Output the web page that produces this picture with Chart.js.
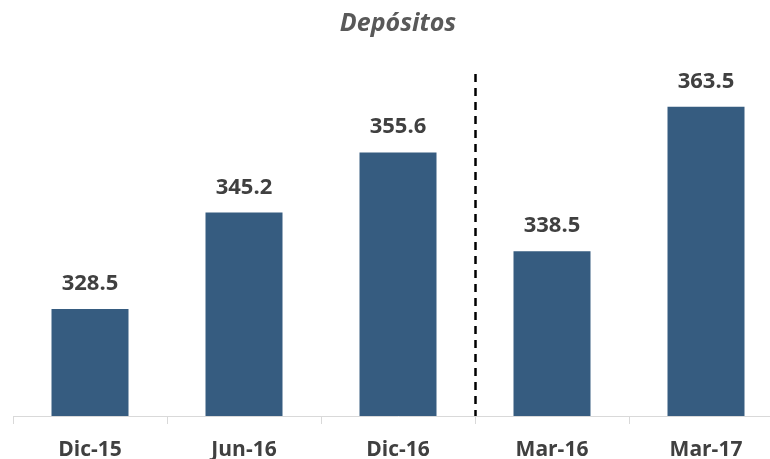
<!DOCTYPE html>
<html>
<head>
<meta charset="utf-8">
<script src="https://cdn.jsdelivr.net/npm/chart.js@4.4.0/dist/chart.umd.min.js"></script>
<style>
  html, body { margin: 0; padding: 0; overflow: hidden; background: #ffffff; width: 770px; height: 459px; }
  #wrap { position: absolute; left: 0; top: 0; width: 796px; height: 459px; }
</style>
</head>
<body>
<div id="wrap"><canvas id="c"></canvas></div>
<script>
const categories = ['Dic-15', 'Jun-16', 'Dic-16', 'Mar-16', 'Mar-17'];
const depositos = [328.5, 345.2, 355.6, 338.5, 363.5];
const chartTitle = 'Depósitos';
const dividerAfterIndex = 2; // dashed separator between Dic-16 and Mar-16

const FONT = '"Open Sans", Lato, "DejaVu Sans", sans-serif';

const extrasPlugin = {
  id: 'extras',
  afterDatasetsDraw(chart) {
    const ctx = chart.ctx;
    const meta = chart.getDatasetMeta(0);
    ctx.save();
    ctx.font = 'bold 22px ' + FONT;
    ctx.fillStyle = '#404040';
    ctx.textAlign = 'center';
    ctx.textBaseline = 'alphabetic';
    meta.data.forEach((bar, i) => {
      ctx.fillText(depositos[i].toFixed(1), bar.x, bar.y - 19);
    });
    // dashed divider
    const xs = chart.scales.x;
    const x = Math.round(xs.getPixelForValue(dividerAfterIndex + 0.5)) + 0.5;
    ctx.strokeStyle = '#000000';
    ctx.lineWidth = 2.5;
    ctx.setLineDash([8, 6]);
    ctx.beginPath();
    ctx.moveTo(x, chart.chartArea.top + 14);
    ctx.lineTo(x, chart.chartArea.bottom);
    ctx.stroke();
    ctx.restore();
  }
};

new Chart(document.getElementById('c'), {
  type: 'bar',
  data: {
    labels: categories,
    datasets: [{
      data: depositos,
      backgroundColor: '#365C80',
      borderWidth: 0,
      categoryPercentage: 1.0,
      barPercentage: 0.5
    }]
  },
  options: {
    responsive: true,
    maintainAspectRatio: false,
    animation: false,
    layout: { padding: { left: 13, right: 13, top: 0, bottom: 0 } },
    plugins: {
      legend: { display: false },
      tooltip: { enabled: false },
      title: {
        display: true,
        text: chartTitle,
        color: '#595959',
        font: { family: FONT, size: 25, style: 'italic', weight: 'bold', lineHeight: 1.2 },
        padding: { top: 9, bottom: 21 }
      }
    },
    scales: {
      y: {
        display: false,
        min: 310,
        max: 371.6
      },
      x: {
        offset: true,
        afterFit(scale) { scale.height = 43; },
        border: { display: true, color: '#d9d9d9', width: 1 },
        grid: {
          offset: true,
          drawOnChartArea: false,
          drawTicks: true,
          tickLength: 8,
          color: '#d9d9d9',
          lineWidth: 1
        },
        ticks: {
          color: '#404040',
          font: { family: FONT, size: 21, weight: 'bold' },
          padding: 13,
          maxRotation: 0
        }
      }
    }
  },
  plugins: [extrasPlugin]
});
</script>
</body>
</html>
